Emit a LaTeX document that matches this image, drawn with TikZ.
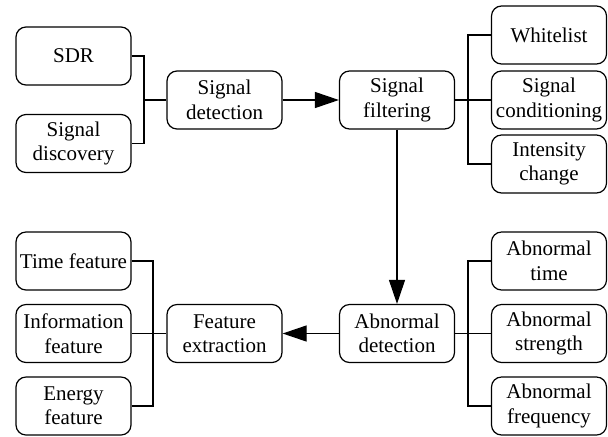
\documentclass[tikz,border=0pt]{standalone}
\usepackage{fontspec}
\setmainfont{Liberation Serif}
\usetikzlibrary{arrows.meta}
\begin{document}
\begin{tikzpicture}[>={Triangle[length=12pt,width=8pt]}, x=.5pt, y=.5pt, line width=.6pt,
  box/.style={draw, rounded corners=5pt, minimum width=57.5pt, minimum height=29pt,
    inner sep=1pt, align=center, font=\fontsize{10.5}{12.2}\selectfont}]
\useasboundingbox (0,0) rectangle (608,436);
% top row
\node[box] (sdr) at (73.5,380) {SDR};
\node[box] (disc) at (73.5,292.5) {Signal\\discovery};
\node[box] (det) at (224.5,336) {Signal\\detection};
\node[box] (filt) at (397,336) {Signal\\filtering};
\node[box] (white) at (549,401) {Whitelist};
\node[box] (cond) at (549,336) {Signal\\conditioning};
\node[box] (inten) at (549,272) {Intensity\\change};
% bottom row
\node[box] (tfeat) at (73.5,175) {Time feature};
\node[box] (ifeat) at (73.5,102.5) {Information\\feature};
\node[box] (efeat) at (73.5,30) {Energy\\feature};
\node[box] (fext) at (224.5,102.5) {Feature\\extraction};
\node[box] (abdet) at (397,102.5) {Abnormal\\detection};
\node[box] (atime) at (549,175) {Abnormal\\time};
\node[box] (astr) at (549,102.5) {Abnormal\\strength};
\node[box] (afreq) at (549,30) {Abnormal\\frequency};
% brackets
\coordinate (jl) at (144,336);
\coordinate (jr) at (468,336);
\coordinate (jl2) at (153,102.5);
\coordinate (jr2) at (468,102.5);
\draw (sdr.east) -| (jl) |- (disc.east);
\draw (jl) -- (det.west);
\draw (white.west) -| (jr) |- (inten.west);
\draw (filt.east) -- (cond.west);
\draw (tfeat.east) -| (jl2) |- (efeat.east);
\draw (ifeat.east) -- (fext.west);
\draw (atime.west) -| (jr2) |- (afreq.west);
\draw (abdet.east) -- (astr.west);
% main flow
\draw[->] (det) -- (filt);
\draw[->] (filt) -- (abdet);
\draw[->] (abdet) -- (fext);
\end{tikzpicture}
\end{document}
